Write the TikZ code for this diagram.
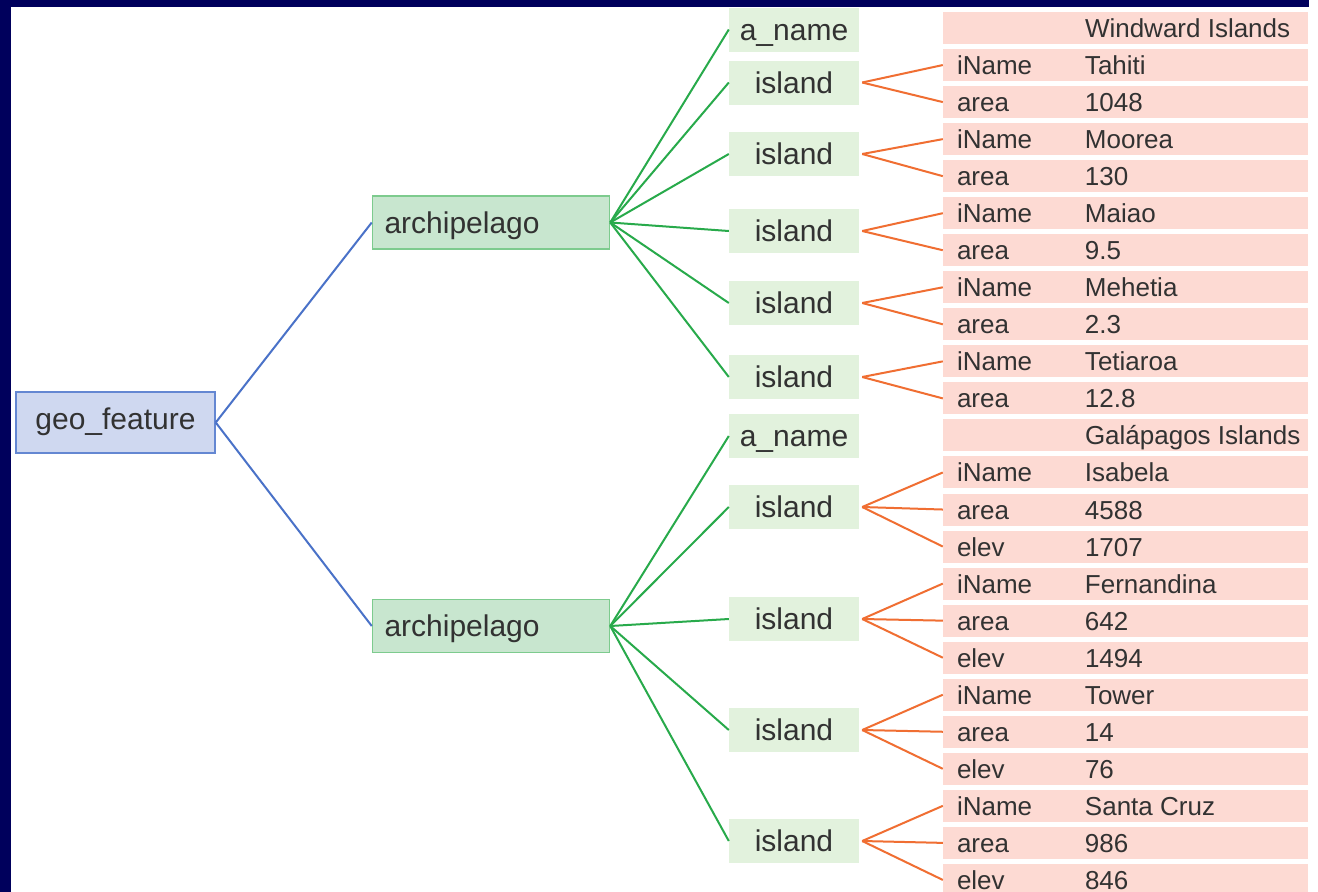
\documentclass[tikz,border=0pt]{standalone}
\usepackage{fontspec}
\setmainfont{Liberation Sans}
\definecolor{navybar}{RGB}{0,0,92}
\definecolor{geofill}{RGB}{207,216,240}
\definecolor{geoline}{RGB}{100,135,210}
\definecolor{archfill}{RGB}{200,230,207}
\definecolor{archline}{RGB}{125,203,142}
\definecolor{islfill}{RGB}{226,242,221}
\definecolor{rowfill}{RGB}{253,218,211}
\definecolor{blueedge}{RGB}{74,114,200}
\definecolor{greenedge}{RGB}{40,170,75}
\definecolor{orangeedge}{RGB}{240,110,50}
\definecolor{txt}{RGB}{50,50,50}
\begin{document}
\begin{tikzpicture}[x=1pt,y=-1pt,
  every node/.style={text=txt},
  bigfont/.style={font=\fontsize{30}{36}\selectfont,text height=22.5pt,text depth=1pt},
  smallfont/.style={font=\fontsize{26}{32}\selectfont,text height=20pt,text depth=1pt},
  geobox/.style={bigfont,text depth=9pt,draw=geoline,fill=geofill,line width=1.5pt,minimum width=199pt,minimum height=61pt,inner sep=0pt},
  archbox/.style={bigfont,draw=archline,fill=archfill,line width=1.5pt,inner xsep=12pt,inner ysep=0pt,minimum height=53pt},
  islbox/.style={bigfont,fill=islfill,minimum width=130pt,minimum height=44pt,inner sep=0pt},
  rowbox/.style={smallfont,fill=rowfill,inner xsep=14pt,inner ysep=0pt,minimum height=32pt},
  blueln/.style={draw=blueedge,line width=2pt},
  greenln/.style={draw=greenedge,line width=2pt},
  orangeln/.style={draw=orangeedge,line width=2pt}
]
\useasboundingbox (0,0) rectangle (1318,892);
\fill[white] (0,0) rectangle (1318,892);

% root and archipelagos
\node[geobox] (geo) at (115.5,422.5) {geo\_feature};
\node[archbox] (arch1) at (491,222.5) {\makebox[213pt][l]{archipelago}};
\node[archbox] (arch2) at (491,626) {\makebox[213pt][l]{archipelago}};

% children of archipelagos
\node[islbox] (an1) at (794,29.5) {a\_name};
\node[islbox] (i1) at (794,82.5) {island};
\node[islbox] (i2) at (794,154) {island};
\node[islbox] (i3) at (794,231) {island};
\node[islbox] (i4) at (794,303) {island};
\node[islbox] (i5) at (794,377) {island};
\node[islbox] (an2) at (794,436) {a\_name};
\node[islbox] (i6) at (794,507) {island};
\node[islbox] (i7) at (794,619) {island};
\node[islbox] (i8) at (794,730) {island};
\node[islbox] (i9) at (794,841) {island};

% attribute rows
\foreach \k/\lab/\val in {0//Windward Islands,1/iName/Tahiti,2/area/1048,3/iName/Moorea,4/area/130,
  5/iName/Maiao,6/area/9.5,7/iName/Mehetia,8/area/2.3,9/iName/Tetiaroa,10/area/12.8,
  11//Galápagos Islands,12/iName/Isabela,13/area/4588,14/elev/1707,
  15/iName/Fernandina,16/area/642,17/elev/1494,18/iName/Tower,19/area/14,20/elev/76,
  21/iName/Santa Cruz,22/area/986,23/elev/846}
  \node[rowbox] (r\k) at (1125.5,{28+37.04*\k}) {\makebox[337pt][l]{\makebox[128pt][l]{\lab}\val}};

% connectors
\draw[blueln] (geo.east) -- (arch1.west);
\draw[blueln] (geo.east) -- (arch2.west);
\foreach \n in {an1,i1,i2,i3,i4,i5}
  \draw[greenln] (arch1.east) -- (\n.west);
\foreach \n in {an2,i6,i7,i8,i9}
  \draw[greenln] (arch2.east) -- (\n.west);
\foreach \i/\r in {i1/1,i1/2,i2/3,i2/4,i3/5,i3/6,i4/7,i4/8,i5/9,i5/10,
  i6/12,i6/13,i6/14,i7/15,i7/16,i7/17,i8/18,i8/19,i8/20,i9/21,i9/22,i9/23}
  \draw[orangeln] ([xshift=3pt]\i.east) -- (r\r.west);

% navy frame
\fill[navybar] (0,0) rectangle (1309,7);
\fill[navybar] (0,0) rectangle (11,892);
\end{tikzpicture}
\end{document}
